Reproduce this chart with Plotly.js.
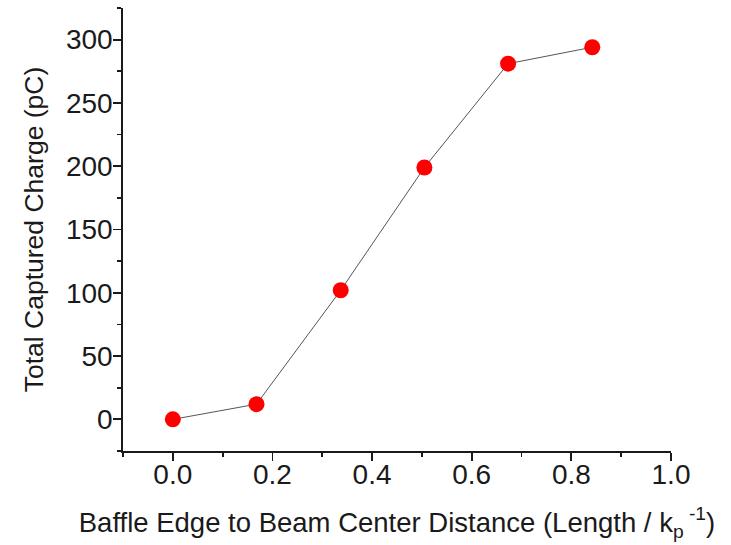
<!DOCTYPE html>
<html>
<head>
<meta charset="utf-8">
<script src="https://cdn.plot.ly/plotly-3.0.1.min.js"></script>
<style>html,body{margin:0;padding:0;background:#fff;}#chart{width:731px;height:545px;}</style>
</head>
<body>
<div id="chart"></div>
<script>
const distance = [0.0, 0.168, 0.337, 0.505, 0.673, 0.842];
const charge = [0, 12, 102, 199, 281, 294];
const xTitle = 'Baffle Edge to Beam Center Distance (Length / k<sub>p</sub><sup> -1</sup>)';
const yTitle = 'Total Captured Charge (pC)';

const axisBase = {
  showline: true, linecolor: '#1a1a1a', linewidth: 1.8,
  ticks: 'outside', ticklen: 8, tickwidth: 1.8, tickcolor: '#1a1a1a',
  showgrid: false, zeroline: false,
  tickfont: {family: 'Liberation Sans, Arial, sans-serif', size: 28, color: '#1a1a1a'},
  mirror: false
};

const trace = {
  x: distance, y: charge, type: 'scatter', mode: 'lines+markers',
  line: {color: '#555', width: 1},
  marker: {color: '#ff0000', size: 16}
};

const layout = {
  width: 731, height: 545,
  margin: {l: 123, r: 60, t: 8, b: 94},
  paper_bgcolor: '#fff', plot_bgcolor: '#fff',
  showlegend: false,
  font: {family: 'Liberation Sans, Arial, sans-serif', color: '#1a1a1a'},
  xaxis: Object.assign({}, axisBase, {
    range: [-0.1, 1.0], dtick: 0.2, tick0: 0, tickformat: '.1f',
    ticklabelstandoff: -10,
    minor: {dtick: 0.1, tick0: 0, ticks: 'outside', ticklen: 4, tickwidth: 1.8, tickcolor: '#1a1a1a'},
    title: {text: xTitle, font: {size: 27.5, color: '#1a1a1a'}, standoff: 23}
  }),
  yaxis: Object.assign({}, axisBase, {
    range: [-25, 325], dtick: 50, tick0: 0,
    ticklabelstandoff: -5,
    minor: {dtick: 25, tick0: 0, ticks: 'outside', ticklen: 4, tickwidth: 1.8, tickcolor: '#1a1a1a'},
    title: {text: yTitle, font: {size: 26.5, color: '#1a1a1a'}, standoff: 15}
  })
};

Plotly.newPlot('chart', [trace], layout, {displayModeBar: false, staticPlot: true});
</script>
</body>
</html>
